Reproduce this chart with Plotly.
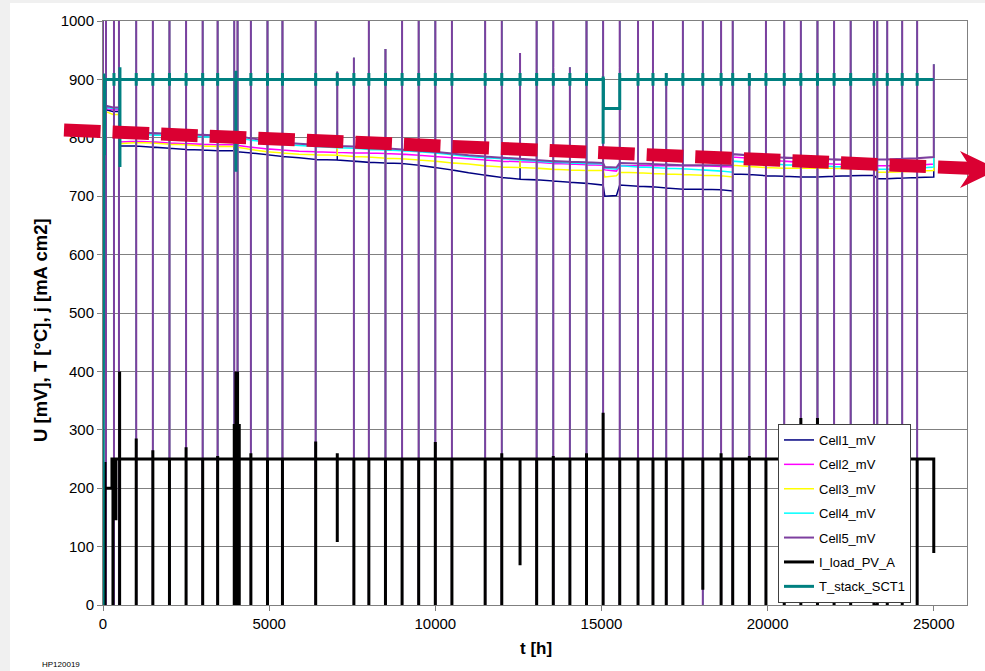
import plotly.graph_objects as go

# ---------------- data ----------------
# cell voltage baselines [mV] at sample times [h]
t_cell = [0, 300, 510,
          1000, 1500, 2000, 2500, 3000, 3450,
          4000, 4450, 4950, 5400, 5900, 6400,
          7050, 7550, 8000, 8500, 9000, 9500,
          10000, 10500, 11000, 11500, 12000, 12550,
          13050, 13550, 14050, 14550, 15050, 15100, 15450,
          15550, 16100, 16550, 16950, 17450, 18050,
          18600, 18950, 18950, 19450, 19950, 20500,
          21000, 21500, 22000, 22500, 23200, 23300,
          23600, 24050, 24500, 25000]
cell1 = [848, 845, 786,
         786, 784, 782, 780, 779, 778,
         776, 774, 771, 768, 766, 763,
         762, 760, 758, 757, 756, 753,
         749, 745, 740, 736, 732, 729,
         728, 726, 724, 722, 719, 700, 701,
         719, 717, 716, 714, 712, 712,
         711, 709, 738, 737, 735, 734,
         733, 733, 734, 735, 736, 730,
         730, 731, 732, 733]
cell2 = [850, 848, 793,
         794, 793, 791, 790, 789, 788,
         787, 784, 781, 779, 777, 776,
         775, 774, 774, 773, 772, 770,
         768, 766, 764, 762, 760, 759,
         758, 756, 755, 754, 753, 745, 743,
         752, 752, 752, 752, 752, 752,
         751, 750, 767, 765, 762, 760,
         758, 756, 755, 754, 753, 752,
         752, 752, 753, 755]
cell3 = [845, 840, 790,
         792, 791, 789, 788, 786, 785,
         784, 780, 776, 774, 772, 771,
         770, 768, 767, 765, 764, 762,
         760, 757, 755, 752, 750, 749,
         748, 746, 745, 744, 744, 733, 735,
         741, 740, 739, 738, 737, 736,
         735, 733, 753, 751, 749, 748,
         748, 748, 748, 747, 747, 741,
         741, 742, 743, 744]
cell4 = [852, 850, 803,
         806, 805, 804, 803, 802, 801,
         800, 796, 792, 789, 787, 785,
         783, 782, 780, 779, 778, 776,
         774, 771, 768, 766, 764, 762,
         760, 758, 757, 756, 755, 748, 746,
         752, 750, 749, 748, 747, 745,
         743, 741, 760, 758, 756, 754,
         753, 752, 751, 750, 750, 746,
         746, 747, 748, 750]
cell5 = [855, 852, 806,
         810, 808, 807, 806, 805, 804,
         803, 799, 795, 792, 790, 788,
         786, 785, 783, 782, 780, 778,
         776, 773, 770, 768, 766, 764,
         762, 760, 759, 758, 757, 750, 749,
         757, 756, 755, 754, 753, 753,
         753, 753, 772, 770, 768, 766,
         765, 764, 763, 762, 762, 763,
         763, 764, 765, 767]

# shutdown / restart events seen on the cell voltages
ev_t = [0, 90, 330, 480, 1000, 1500, 2000, 2500, 3000, 3450,
        3950, 4050, 4450, 4950, 5400, 6400, 7050, 7550, 8000, 8500,
        9000, 9500, 10000, 10500, 11500, 12000, 12550, 13050, 13550, 14050,
        14550, 15050, 15550, 16100, 16550, 16950, 17450, 18050, 18600, 18950,
        19450, 19950, 20500, 21000, 21500, 22000, 22500, 23200, 23300, 23600,
        24050, 24500, 25000]
ev_peak = [1100, 1100, 1100, 1100, 1100, 1100, 1100, 1100, 1100, 1100,
           1100, 1100, 1100, 1100, 1100, 1100, 913, 937, 1100, 952,
           1100, 1100, 1100, 1100, 1100, 1100, 945, 1100, 1100, 921,
           1100, 1100, 1100, 1100, 1100, 911, 1100, 1100, 1100, 1100,
           908, 1100, 1100, 1100, 1100, 1100, 1100, 1100, 1100, 1100,
           1100, 1100, 926]
ev_low = [0, 0, 0, 0, 0, 0, 0, 0, 0, 0,
          0, 0, 0, 0, 0, 0, None, 0, 0, 0,
          0, 0, 0, 0, 0, 0, None, 0, 0, 0,
          0, 0, 0, 0, 0, 0, 0, 0, 0, 0,
          0, 0, 0, 0, 0, 0, 0, 0, 0, 0,
          0, 0, None]

# load current
t_I = [0, 60, 60, 270, 270, 23200, 23200, 23300, 23300, 25000, 25000]
I_load = [0, 0, 200, 200, 250, 250, 0, 0, 250, 250, 89]
evI_t = [60, 300, 390, 500, 1000, 1500, 2000, 2500, 3000, 3450,
         3950, 4000, 4050, 4100, 4450, 4950, 5400, 6400, 7050, 7550,
         8000, 8500, 9000, 9500, 10000, 10500, 11500, 12000, 12550, 13050,
         13550, 14050, 14550, 15050, 15550, 16100, 16550, 16950, 17450, 18050,
         18600, 18950, 19450, 19950, 20500, 21000, 21500, 22000, 22500, 23600,
         24050, 24500]
evI_lo = [200, 0, 145, 0, 0, 0, 0, 0, 0, 0,
          0, 0, 0, 0, 0, 0, 0, 0, 108, 0,
          0, 0, 0, 0, 0, 0, 0, 0, 68, 0,
          0, 0, 0, 0, 0, 0, 0, 0, 0, 26,
          0, 0, 0, 0, 0, 0, 0, 0, 0, 0,
          0, 0]
evI_hi = [245, 250, 250, 400, 285, 265, 250, 270, 250, 255,
          310, 400, 400, 310, 260, 250, 250, 280, 260, 250,
          250, 250, 250, 250, 279, 250, 250, 260, 250, 250,
          255, 250, 260, 329, 250, 250, 250, 250, 250, 250,
          260, 250, 255, 250, 250, 320, 320, 250, 250, 250,
          250, 250]

# stack temperature
t_T = [0, 30, 45, 60, 15060, 15060, 15550, 15550, 25000]
T_stack = [0, 910, 770, 900, 900, 850, 850, 900, 900]
evT_t = [330, 510, 1000, 1500, 2000, 2500, 3000, 3450, 4000, 4450,
         4950, 5400, 6400, 7050, 7550, 8000, 8500, 9000, 9500, 10000,
         10500, 11500, 12000, 12550, 13050, 13550, 14050, 14550, 15050, 15550,
         16100, 16550, 16950, 17450, 18050, 18600, 18950, 19450, 19950, 20500,
         21000, 21500, 22000, 22500, 23200, 23600, 24050, 24500]
evT_hi = [911, 921, 911, 911, 911, 911, 911, 911, 915, 911,
          911, 911, 911, 911, 911, 911, 911, 911, 911, 911,
          911, 911, 911, 911, 911, 911, 911, 911, 905, 911,
          911, 911, 911, 911, 911, 911, 911, 911, 911, 911,
          911, 911, 911, 911, 911, 911, 911, 911]
evT_lo = [889, 750, 889, 889, 889, 889, 889, 889, 742, 889,
          889, 889, 889, 889, 889, 889, 889, 889, 889, 889,
          889, 889, 889, 889, 889, 889, 889, 889, 790, 889,
          889, 889, 889, 889, 889, 889, 889, 889, 889, 889,
          889, 889, 889, 889, 889, 889, 889, 889]

x_ticks = [0, 5000, 10000, 15000, 20000, 25000]
y_ticks = [0, 100, 200, 300, 400, 500, 600, 700, 800, 900, 1000]


def build(ts, vs, et, e1, e2):
    """Merge baseline samples with vertical event excursions (base, e1, e2, base)."""
    X, Y = [], []
    j = 0
    last = vs[0]
    for t, v in zip(ts, vs):
        while j < len(et) and et[j] < t:
            a = e1[j] if e1[j] is not None else last
            b = e2[j] if e2[j] is not None else last
            X += [et[j]] * 4
            Y += [last, a, b, last]
            j += 1
        X.append(t)
        Y.append(v)
        last = v
    while j < len(et):
        a = e1[j] if e1[j] is not None else last
        b = e2[j] if e2[j] is not None else last
        X += [et[j]] * 4
        Y += [last, a, b, last]
        j += 1
    return X, Y


# ---------------- layout geometry ----------------
W, H = 985, 671
ML, MR, MT, MB = 103, 18, 21, 66
PW, PH = W - ML - MR, H - MT - MB


def px(x):
    return (x - ML) / PW


def py(y):
    return (H - MB - y) / PH


fig = go.Figure()

cells = [("Cell1_mV", cell1, "#000080", 1.5), ("Cell2_mV", cell2, "#ff00ff", 1.5),
         ("Cell3_mV", cell3, "#ffff00", 1.5), ("Cell4_mV", cell4, "#00ffff", 1.5),
         ("Cell5_mV", cell5, "#7d3f9f", 2)]
for i, (name, vals, col, w) in enumerate(cells):
    X, Y = build(t_cell, vals, ev_t, ev_peak, ev_low)
    fig.add_trace(go.Scatter(x=X, y=Y, mode="lines", name=name,
                             legendgroup="g%d" % i,
                             line=dict(color=col, width=w, simplify=False)))

X, Y = build(t_I, I_load, evI_t, evI_lo, evI_hi)
fig.add_trace(go.Scatter(x=X, y=Y, mode="lines", name="I_load_PV_A",
                         legendgroup="g5",
                         line=dict(color="#000000", width=3, simplify=False)))
X, Y = build(t_T, T_stack, evT_t, evT_hi, evT_lo)
fig.add_trace(go.Scatter(x=X, y=Y, mode="lines", name="T_stack_SCT1",
                         legendgroup="g6",
                         line=dict(color="#008080", width=3, simplify=False)))

FONT = "Liberation Sans, Arial, sans-serif"

# red dashed trend arrow
ax0, ay0, ax1, ay1 = 64, 130, 975, 168.5
shapes = [
    dict(type="rect", xref="paper", yref="paper", x0=px(0), x1=px(10), y0=py(H), y1=py(0),
         fillcolor="#f0f0f0", line=dict(width=0), layer="below"),
    dict(type="rect", xref="paper", yref="paper", x0=px(0), x1=px(W), y0=py(3), y1=py(0),
         fillcolor="#f0f0f0", line=dict(width=0), layer="below"),
    dict(type="line", xref="paper", yref="paper", x0=px(ax0), y0=py(ay0), x1=px(ax1), y1=py(ay1),
         line=dict(color="#da0032", width=13, dash="36.6px,12px"), layer="above"),
    dict(type="path", xref="paper", yref="paper",
         path="M %f,%f L %f,%f L %f,%f L %f,%f L %f,%f Z" % (
             px(960), py(151), px(985), py(163), px(985), py(176), px(960), py(188), px(972), py(170)),
         fillcolor="#da0032", line=dict(width=0), layer="above"),
]

annotations = [
    dict(text="<b>U [mV], T [°C], j [mA cm2]</b>", xref="paper", yref="paper",
         x=px(40), y=py(330), xanchor="center", yanchor="middle", textangle=-90,
         showarrow=False, font=dict(family=FONT, size=18.5, color="#000")),
    dict(text="<b>t [h]</b>", xref="paper", yref="paper", x=px(536), y=py(648),
         xanchor="center", yanchor="middle", showarrow=False,
         font=dict(family=FONT, size=17, color="#000")),
    dict(text="HP120019", xref="paper", yref="paper", x=px(40), y=py(664),
         xanchor="left", yanchor="middle", showarrow=False,
         font=dict(family=FONT, size=8, color="#000")),
]

fig.update_layout(
    width=W, height=H,
    margin=dict(l=ML, r=MR, t=MT, b=MB, pad=0),
    paper_bgcolor="#ffffff", plot_bgcolor="#ffffff",
    font=dict(family=FONT, size=15, color="#000"),
    showlegend=True,
    legend=dict(x=px(778), y=py(424), xanchor="left", yanchor="top",
                bgcolor="#ffffff", bordercolor="#404040", borderwidth=1,
                font=dict(family=FONT, size=13, color="#000"),
                traceorder="grouped", tracegroupgap=4.5, itemwidth=30),
    shapes=shapes, annotations=annotations,
    xaxis=dict(range=[0, 26000], tickvals=x_ticks, ticktext=[str(v) for v in x_ticks],
               showgrid=False, zeroline=False, showline=True, linecolor="#808080",
               linewidth=1, mirror=True, ticks="outside", ticklen=5, tickcolor="#808080",
               tickfont=dict(family=FONT, size=15, color="#000")),
    yaxis=dict(range=[0, 1000], tickvals=y_ticks, ticktext=[str(v) for v in y_ticks],
               showgrid=True, gridcolor="#808080", gridwidth=1, zeroline=False,
               showline=True, linecolor="#808080", linewidth=1, mirror=True,
               ticks="outside", ticklen=5, tickcolor="#808080",
               tickfont=dict(family=FONT, size=15, color="#000")),
)

fig.write_html("out.html", config={"displayModeBar": False},
               post_script="document.body.style.margin='0px';")
